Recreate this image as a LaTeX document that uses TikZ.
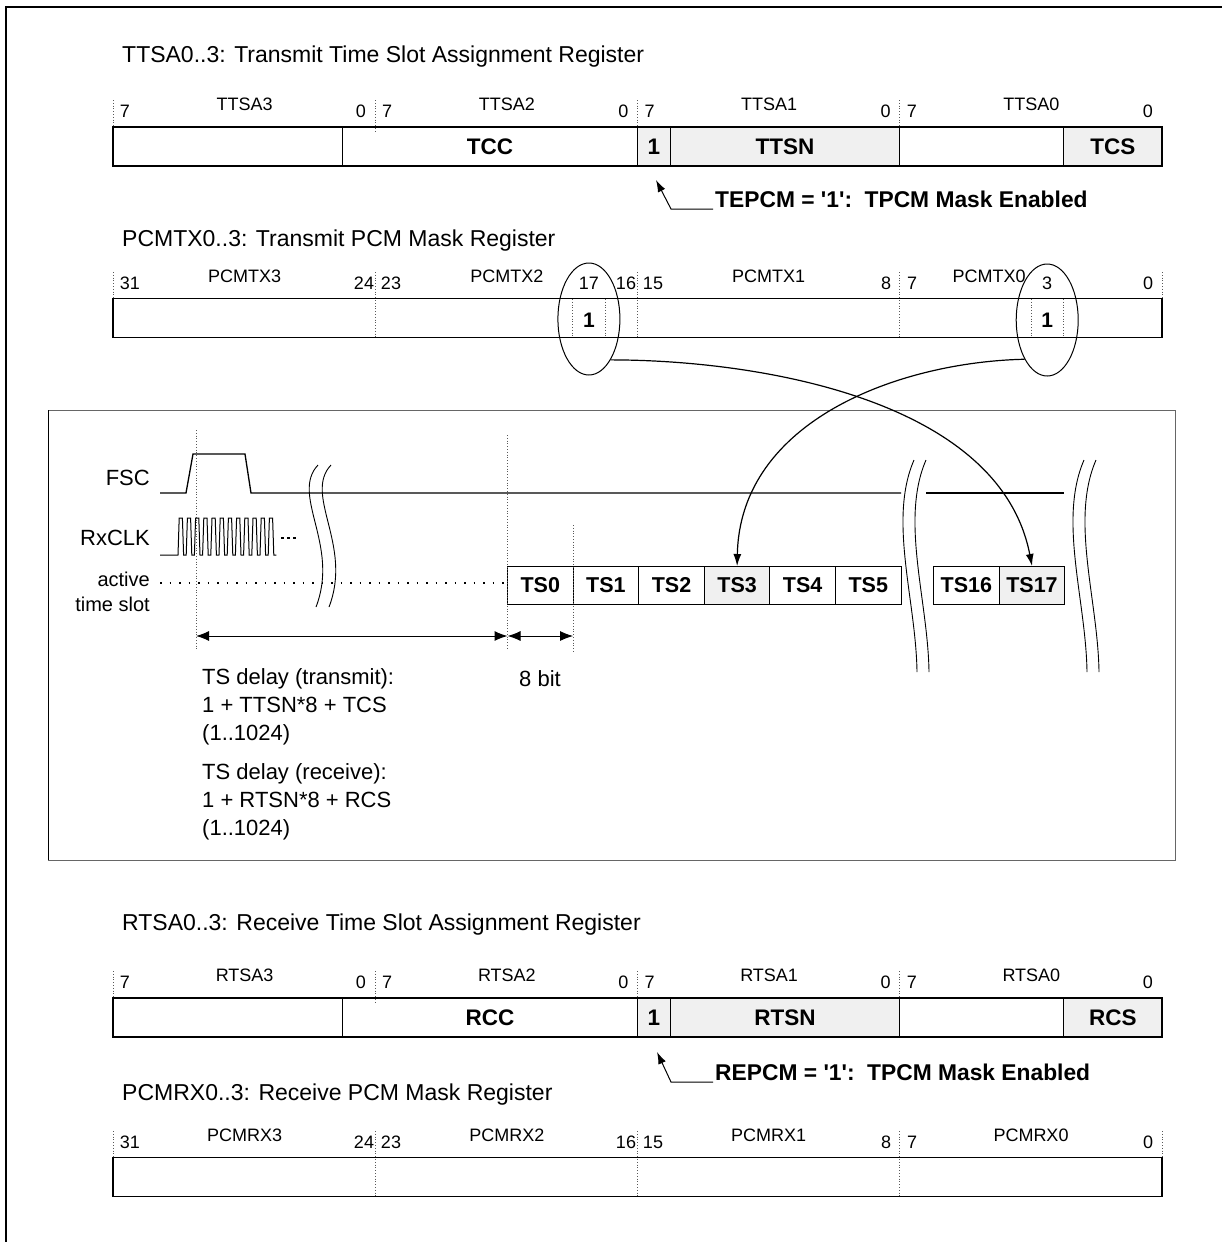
\documentclass[tikz,border=0pt]{standalone}
\usepackage{fontspec}
\setmainfont{Liberation Sans}
\usetikzlibrary{shapes.geometric}
\usetikzlibrary{arrows.meta}
\usetikzlibrary{positioning}

\newcommand{\setfs}[1]{\fontsize{#1}{#1}\selectfont}

\begin{document}
\begin{tikzpicture}[x=1pt,y=-1pt]
\tikzstyle{field} = [draw, line width=1.5pt, minimum height=39pt, inner sep=0pt, outer sep=0pt, font=\setfs{22.5}\bfseries]
\tikzstyle{setfield} = [field, fill=gray!12]
\tikzstyle{slot} = [draw, line width=1pt, minimum width=65.6pt, minimum height=38pt, inner sep=0pt, outer sep=0pt, font=\setfs{21.5}\bfseries]
\tikzstyle{bitnum} = [inner sep=0pt, font=\setfs{18}]
\tikzstyle{bytename} = [inner sep=0pt, font=\setfs{18}]
\tikzstyle{regtitle} = [anchor=base west, inner sep=0pt, font=\setfs{23}]
\tikzstyle{note} = [anchor=base west, inner sep=2pt, font=\setfs{22.8}\bfseries]
\tikzstyle{sep} = [black!65, dotted, line width=0.8pt]
\tikzstyle{sel} = [draw, ellipse, line width=1pt, minimum width=62pt, minimum height=112pt, inner sep=0pt]
\tikzstyle{signal} = [line width=1.3pt]
\tikzstyle{brk} = [line width=0.9pt]
\tikzset{bits/.style={minimum width=#1*32.78pt}}
\useasboundingbox (0,0) rectangle (1222,1242);
\fill[white] (0,0) rectangle (1222,1242);
\draw[line width=1.5pt] (1222,7) -- (6,7) -- (6,1242);

% transmit time slot assignment
\node[regtitle] (ttsatitle) at (122,62) {TTSA0..3: Transmit Time Slot Assignment Register};
\node[field, bits=7, anchor=west] (ttsa3f) at (113,146.5) {};
\node[field, bits=9, right=0pt of ttsa3f] (tcc) {TCC};
\node[setfield, bits=1, right=0pt of tcc] (tepcmbit) {1};
\node[setfield, bits=7, right=0pt of tepcmbit] (ttsn) {TTSN};
\node[field, bits=5, right=0pt of ttsn] (ttsa0f) {};
\node[setfield, bits=3, right=0pt of ttsa0f] (tcs) {TCS};
\foreach \b/\name in {0/TTSA3,1/TTSA2,2/TTSA1,3/TTSA0} {
  \node[bytename] (\name) at ({244.6+262.25*\b},104) {\name};
  \node[bitnum] (\name hi) at ({125+262.25*\b},111) {7};
  \node[bitnum] (\name lo) at ({361+262.25*\b},111) {0};
}
\foreach \x in {113,637.5,899.75} \draw[sep] (\x,100) -- (\x,127);
\draw[sep] (375.25,100) -- (375.25,133);
\node[note] (tepcm) at (713,207) {TEPCM = \textquotesingle1\textquotesingle:\hspace{0.55em}TPCM Mask Enabled};
\coordinate (tepcmtip) at (656,180);
\coordinate (tepcmbend) at (671,209);
\draw[line width=1pt, {Latex[length=12pt,width=8pt]}-] (tepcmtip) -- (tepcmbend) -- (tepcmbend -| tepcm.west);

% transmit PCM mask
\node[regtitle] (pcmtxtitle) at (122,246) {PCMTX0..3: Transmit PCM Mask Register};
\node[field, bits=32, anchor=west] (pcmtx) at (113,318) {};
\foreach \x/\name in {244.6/PCMTX3,506.9/PCMTX2,768.6/PCMTX1,989/PCMTX0}
  \node[bytename] (\name) at (\x,276) {\name};
\foreach \x/\n [count=\k] in {130/31,364/24,391/23,588.9/17,626/16,653/15,886/8,912/7,1047.2/3,1148/0}
  \node[bitnum] (txbit\k) at (\x,283) {\n};
\foreach \x in {113,1162} \draw[sep] (\x,272) -- (\x,299);
\foreach \x in {375.25,637.5,899.75} \draw[sep] (\x,272) -- (\x,337);
\foreach \x in {572.4,605.25,1030.9,1063.6} \draw[sep] (\x,299) -- (\x,337);
\node[font=\setfs{21}\bfseries, inner sep=0pt] (tx17) at (588.9,320) {1};
\node[font=\setfs{21}\bfseries, inner sep=0pt] (tx3) at (1047.2,320) {1};
\node[sel] (sel17) at (588.9,319) {};
\node[sel] (sel3) at (1047.2,320) {};

% timing
\draw[black!60, line width=1pt] (48,410) rectangle (1175,860);
\draw[black, line width=1pt] (48,410) -- (48,860);
\node[anchor=east, inner sep=0pt, font=\setfs{22}] (fsc) at (150,478) {FSC};
\node[anchor=east, inner sep=0pt, font=\setfs{22}] (rxclk) at (150,538) {RxCLK};
\node[anchor=east, inner sep=0pt, align=right, font=\fontsize{20}{25}\selectfont] (ats) at (150,592) {active\\time slot};
\node[slot, anchor=west] (ts0) at (507.5,585) {TS0};
\node[slot, right=0pt of ts0] (ts1) {TS1};
\node[slot, right=0pt of ts1] (ts2) {TS2};
\node[slot, fill=gray!12, right=0pt of ts2] (ts3) {TS3};
\node[slot, right=0pt of ts3] (ts4) {TS4};
\node[slot, right=0pt of ts4] (ts5) {TS5};
\node[slot, anchor=west] (ts16) at (933.6,585) {TS16};
\node[slot, fill=gray!12, right=0pt of ts16] (ts17) {TS17};
\draw[sep] (196,430) -- (196,650);
\draw[sep] (ts0.west |- 0,435) -- (ts0.west |- 0,650);
\draw[sep] (ts0.east |- 0,525) -- (ts0.east |- 0,652);
\draw[signal] (160,493) -- (186,493) -- (193,454) -- (245,454) -- (251,493) -- (901,493);
\draw[signal] (926,493) -- (1064,493);
\draw[line width=1pt] (160,555) -- (178,555)
  foreach \i in {0,...,11} { -- ({178+8.2*\i+1.2},518) -- ({178+8.2*\i+4.4},518) -- ({178+8.2*\i+5.6},555) -- ({178+8.2*\i+8.2},555) };
\draw[line width=2.5pt, dash pattern=on 3pt off 3pt] (281,538) -- (298,538);
\coordinate (atsl) at (160,583);
\draw[line width=1.3pt, dash pattern=on 1.5pt off 8pt] (atsl) -- (atsl -| ts0.west);
\foreach \dx in {0,13} \draw[brk] ({318+\dx},465) .. controls ({290+\dx},495) and ({340+\dx},545) .. ({316+\dx},607);
\foreach \dx in {0,12} \draw[brk] ({914+\dx},460) .. controls ({888+\dx},520) and ({916+\dx},600) .. ({917+\dx},672);
\foreach \dx in {0,12} \draw[brk] ({1084+\dx},460) .. controls ({1058+\dx},520) and ({1086+\dx},600) .. ({1087+\dx},672);
\coordinate (t0) at (196,636);
\draw[line width=1pt, {Latex[length=13pt,width=10pt]}-{Latex[length=13pt,width=10pt]}] (t0) -- (t0 -| ts0.west);
\draw[line width=1pt, {Latex[length=13pt,width=10pt]}-{Latex[length=13pt,width=10pt]}] (t0 -| ts0.west) -- (t0 -| ts0.east);
\node[inner sep=0pt, font=\setfs{22}] (eightbit) at (540,679) {8 bit};
\node[anchor=west, align=left, inner sep=0pt, font=\fontsize{22}{28}\selectfont] (txdelay) at (202,707) {TS delay (transmit):\\1 + TTSN*8 + TCS\\(1..1024)};
\node[anchor=west, align=left, inner sep=0pt, font=\fontsize{22}{28}\selectfont] (rxdelay) at (202,802) {TS delay (receive):\\1 + RTSN*8 + RCS\\(1..1024)};
\draw[line width=1.2pt, -{Latex[length=12pt,width=8pt]}] (sel17.-62) .. controls (760,360) and (1000,400) .. (ts17.north);
\draw[line width=1.2pt, -{Latex[length=12pt,width=8pt]}] (sel3.-120) .. controls (900,362) and (740,420) .. (ts3.north);

% receive time slot assignment
\node[regtitle] (rtsatitle) at (122,930) {RTSA0..3: Receive Time Slot Assignment Register};
\node[field, bits=7, anchor=west] (rtsa3f) at (113,1017.5) {};
\node[field, bits=9, right=0pt of rtsa3f] (rcc) {RCC};
\node[setfield, bits=1, right=0pt of rcc] (repcmbit) {1};
\node[setfield, bits=7, right=0pt of repcmbit] (rtsn) {RTSN};
\node[field, bits=5, right=0pt of rtsn] (rtsa0f) {};
\node[setfield, bits=3, right=0pt of rtsa0f] (rcs) {RCS};
\foreach \b/\name in {0/RTSA3,1/RTSA2,2/RTSA1,3/RTSA0} {
  \node[bytename] (\name) at ({244.6+262.25*\b},975) {\name};
  \node[bitnum] (\name hi) at ({125+262.25*\b},982) {7};
  \node[bitnum] (\name lo) at ({361+262.25*\b},982) {0};
}
\foreach \x in {113,637.5,899.75} \draw[sep] (\x,971) -- (\x,998);
\draw[sep] (375.25,971) -- (375.25,1004);
\node[note] (repcm) at (713,1080) {REPCM = \textquotesingle1\textquotesingle:\hspace{0.55em}TPCM Mask Enabled};
\coordinate (repcmtip) at (657,1052);
\coordinate (repcmbend) at (671,1082);
\draw[line width=1pt, {Latex[length=12pt,width=8pt]}-] (repcmtip) -- (repcmbend) -- (repcmbend -| repcm.west);

% receive PCM mask
\node[regtitle] (pcmrxtitle) at (122,1100) {PCMRX0..3: Receive PCM Mask Register};
\node[field, bits=32, anchor=west] (pcmrx) at (113,1177) {};
\foreach \x/\name in {244.6/PCMRX3,506.9/PCMRX2,768.6/PCMRX1,1031/PCMRX0}
  \node[bytename] (\name) at (\x,1135) {\name};
\foreach \x/\n [count=\k] in {130/31,364/24,391/23,626/16,653/15,886/8,912/7,1148/0}
  \node[bitnum] (rxbit\k) at (\x,1142) {\n};
\foreach \x in {113,1162} \draw[sep] (\x,1131) -- (\x,1158);
\foreach \x in {375.25,637.5,899.75} \draw[sep] (\x,1131) -- (\x,1196);
\end{tikzpicture}
\end{document}
